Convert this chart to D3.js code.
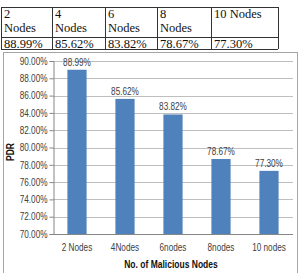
<!DOCTYPE html>
<html>
<head>
<meta charset="utf-8">
<script src="https://cdn.jsdelivr.net/npm/d3@7"></script>
<style>
  body { margin: 0; background: #fff; }
  svg { display: block; }
</style>
</head>
<body>
<div id="chart"></div>
<script>
const tableHeaders = [['2', 'Nodes'], ['4', 'Nodes'], ['6', 'Nodes'], ['8', 'Nodes'], ['10 Nodes']];
const tableValues = ['88.99%', '85.62%', '83.82%', '78.67%', '77.30%'];
const categories = ['2 Nodes', '4Nodes', '6nodes', '8nodes', '10 nodes'];
const pdr = [88.99, 85.62, 83.82, 78.67, 77.30];
const yTicks = [70, 72, 74, 76, 78, 80, 82, 84, 86, 88, 90];

const W = 299, H = 273;
const svg = d3.select('#chart').append('svg')
    .attr('width', W).attr('height', H);

// squeeze text to look like Arial Narrow
function narrow(sel, k) {
    sel.each(function() {
        const len = this.getComputedTextLength();
        d3.select(this).attr('textLength', len * (k || 0.82)).attr('lengthAdjust', 'spacingAndGlyphs');
    });
}

// Table on top
const colEdges = [1, 52, 105, 157, 211, 278];
const rowEdges = [7, 37, 49];
const tbl = svg.append('g').attr('font-family', '"Liberation Serif", "Times New Roman", serif')
    .attr('font-size', 12.5).attr('fill', '#111');

tableHeaders.forEach((lines, i) => {
    lines.forEach((t, j) => {
        tbl.append('text')
            .attr('x', colEdges[i] + 3)
            .attr('y', rowEdges[0] + 11 + j * 14)
            .text(t);
    });
    tbl.append('text')
        .attr('x', colEdges[i] + 3)
        .attr('y', rowEdges[1] + 10.5)
        .text(tableValues[i]);
});
rowEdges.forEach(y => {
    tbl.append('line').attr('x1', colEdges[0]).attr('x2', colEdges[5])
        .attr('y1', y + 0.5).attr('y2', y + 0.5).attr('stroke', '#333');
});
colEdges.forEach(x => {
    tbl.append('line').attr('x1', x + 0.5).attr('x2', x + 0.5)
        .attr('y1', rowEdges[0]).attr('y2', rowEdges[2]).attr('stroke', '#333');
});

// Chart frame
svg.append('rect')
    .attr('x', 3.5).attr('y', 52.5).attr('width', 294).attr('height', 230)
    .attr('fill', 'none').attr('stroke', '#a6a6a6');

const margin = {top: 61, left: 53, right: 6, bottom: 39};
const x = d3.scaleBand()
    .domain(categories)
    .range([margin.left, W - margin.right])
    .paddingInner(0.6).paddingOuter(0.3);
const y = d3.scaleLinear()
    .domain([70, 90])
    .range([H - margin.bottom, margin.top]);

const font = '"Liberation Sans", Arial, sans-serif';

// Gridlines
svg.append('g').selectAll('line')
    .data(yTicks.slice(1))
    .enter().append('line')
    .attr('x1', margin.left).attr('x2', W - margin.right)
    .attr('y1', d => Math.round(y(d)) + 0.5).attr('y2', d => Math.round(y(d)) + 0.5)
    .attr('stroke', '#bfbfbf');

// Y axis
const yAxis = svg.append('g')
    .attr('transform', `translate(${margin.left + 0.5},0)`)
    .call(d3.axisLeft(y).tickValues(yTicks).tickSize(4).tickPadding(2).tickFormat(d => d.toFixed(2) + '%'));
yAxis.selectAll('path, line').attr('stroke', '#868686');
yAxis.selectAll('text').attr('font-family', font).attr('font-size', 10).attr('fill', '#404040').call(narrow);

// Bars
svg.selectAll('.bar')
    .data(pdr)
    .enter().append('rect')
    .attr('class', 'bar')
    .attr('x', (d, i) => x(categories[i]))
    .attr('width', x.bandwidth())
    .attr('y', d => y(d))
    .attr('height', d => y(70) - y(d))
    .attr('fill', '#4f81bd');

// Value labels
svg.selectAll('.label')
    .data(pdr)
    .enter().append('text')
    .attr('class', 'label')
    .attr('x', (d, i) => x(categories[i]) + x.bandwidth() / 2)
    .attr('y', d => y(d) - 4)
    .attr('text-anchor', 'middle')
    .attr('font-family', font).attr('font-size', 10).attr('fill', '#404040')
    .text(d => d.toFixed(2) + '%')
    .call(narrow);

// X axis
const xAxis = svg.append('g')
    .attr('transform', `translate(0,${Math.round(y(70)) + 0.5})`)
    .call(d3.axisBottom(x).tickSize(0).tickPadding(9));
xAxis.select('.domain').attr('stroke', '#868686').attr('d', `M${margin.left},0H${W - margin.right}`);
xAxis.selectAll('text').attr('font-family', font).attr('font-size', 10).attr('fill', '#404040').call(narrow);

// Axis titles
svg.append('text')
    .attr('x', 171).attr('y', 268)
    .attr('text-anchor', 'middle')
    .attr('font-family', font).attr('font-size', 10).attr('font-weight', 'bold').attr('fill', '#111')
    .text('No. of Malicious Nodes')
    .call(narrow, 0.85);

svg.append('text')
    .attr('transform', 'translate(14,152) rotate(-90)')
    .attr('text-anchor', 'middle')
    .attr('font-family', font).attr('font-size', 10).attr('font-weight', 'bold').attr('fill', '#111')
    .text('PDR')
    .call(narrow, 0.85);
</script>
</body>
</html>
